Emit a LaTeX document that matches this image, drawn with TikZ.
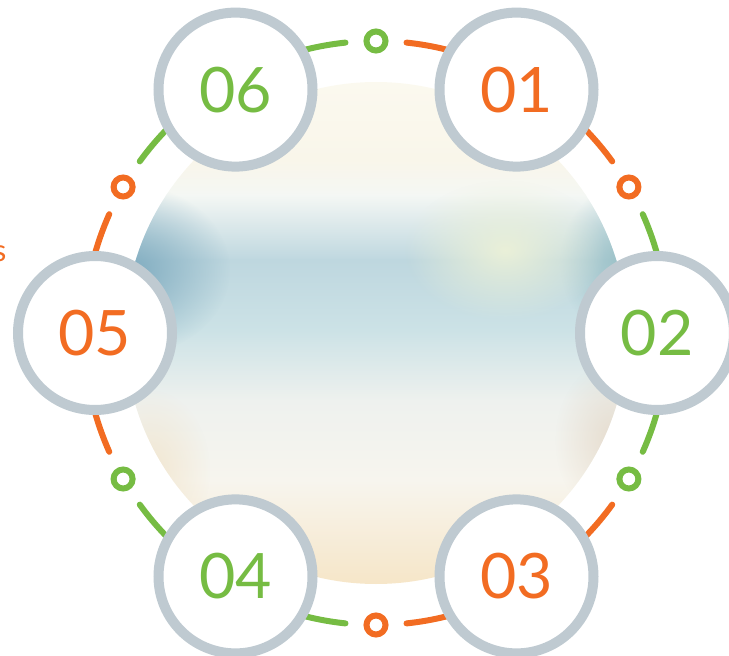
\documentclass[tikz,border=0pt]{standalone}
\usepackage{fontspec}
\setmainfont{Lato}
\usetikzlibrary{fadings}

\definecolor{numorange}{RGB}{242,108,34}
\definecolor{numgreen}{RGB}{118,188,67}
\definecolor{ringgray}{RGB}{191,202,209}

\tikzfading[name=softglow, inner color=transparent!0, outer color=transparent!100]

\tikzset{every picture/.style={line width=0.75pt}}
\tikzset{
  numcirc/.style={circle, draw=ringgray, line width=7.5pt, fill=white, minimum size=115.5pt, inner sep=0pt, font=\fontsize{47}{47}\selectfont},
  linkarc/.style={line width=4.5pt, line cap=round},
  dotring/.style={circle, draw, fill=white, line width=4.5pt, minimum size=14.25pt, inner sep=0pt},
  softspot/.style={path fading=softglow},
}

\begin{document}
\begin{tikzpicture}[x=0.75pt,y=0.75pt,yscale=-1,xscale=1]
\useasboundingbox (0,0) rectangle (729,656);

\coordinate (hub) at (376,333);

%Blurred picture in the middle
\begin{scope}
\clip (hub) circle [radius=251];
\shade [top color={rgb,255:red,251;green,249;blue,239}, bottom color={rgb,255:red,249;green,246;blue,234}] (120,80) rectangle (630,161);
\shade [top color={rgb,255:red,249;green,246;blue,234}, bottom color={rgb,255:red,244;green,247;blue,244}] (120,160) rectangle (630,196);
\shade [top color={rgb,255:red,244;green,247;blue,244}, bottom color={rgb,255:red,190;green,215;blue,223}] (120,195) rectangle (630,261);
\shade [top color={rgb,255:red,190;green,215;blue,223}, bottom color={rgb,255:red,204;green,226;blue,230}] (120,260) rectangle (630,331);
\shade [top color={rgb,255:red,204;green,226;blue,230}, bottom color={rgb,255:red,238;green,241;blue,238}] (120,330) rectangle (630,401);
\shade [top color={rgb,255:red,238;green,241;blue,238}, bottom color={rgb,255:red,247;green,245;blue,238}] (120,400) rectangle (630,481);
\shade [top color={rgb,255:red,247;green,245;blue,238}, bottom color={rgb,255:red,246;green,229;blue,198}] (120,480) rectangle (630,590);
%darker sides, pale green patch
\fill [softspot, color={rgb,255:red,128;green,172;blue,192}] (130,270) ellipse [x radius=100, y radius=85];
\fill [softspot, color={rgb,255:red,150;green,190;blue,196}] (630,262) ellipse [x radius=70, y radius=80];
\fill [softspot, color={rgb,255:red,234;green,240;blue,216}] (505,250) ellipse [x radius=100, y radius=70];
\fill [softspot, color={rgb,255:red,222;green,205;blue,185}, fill opacity=0.6] (615,440) ellipse [x radius=60, y radius=80];
\fill [softspot, color={rgb,255:red,240;green,222;blue,190}, fill opacity=0.6] (150,470) ellipse [x radius=60, y radius=80];
\end{scope}

%Arcs
\draw [linkarc, numorange] (hub) ++(-60:292) arc (-60:-84:292);
\draw [linkarc, numorange] (hub) ++(-60:292) arc (-60:-36:292);
\draw [linkarc, numgreen] (hub) ++(0:292) arc (0:-24:292);
\draw [linkarc, numgreen] (hub) ++(0:292) arc (0:24:292);
\draw [linkarc, numorange] (hub) ++(60:292) arc (60:36:292);
\draw [linkarc, numorange] (hub) ++(60:292) arc (60:84:292);
\draw [linkarc, numgreen] (hub) ++(120:292) arc (120:96:292);
\draw [linkarc, numgreen] (hub) ++(120:292) arc (120:144:292);
\draw [linkarc, numorange] (hub) ++(180:292) arc (180:156:292);
\draw [linkarc, numorange] (hub) ++(180:292) arc (180:204:292);
\draw [linkarc, numgreen] (hub) ++(240:292) arc (240:216:292);
\draw [linkarc, numgreen] (hub) ++(240:292) arc (240:264:292);

%Small rings
\node [dotring, draw=numgreen] (dtop) at (376,41) {};
\node [dotring, draw=numorange] (dupright) at (628.9,187) {};
\node [dotring, draw=numgreen] (dlowright) at (628.9,479) {};
\node [dotring, draw=numorange] (dbottom) at (376,625) {};
\node [dotring, draw=numgreen] (dlowleft) at (123.1,479) {};
\node [dotring, draw=numorange] (dupleft) at (123.1,187) {};

%Numbered circles
\node [numcirc, text=numorange] (n01) at (516.5,89.6) {01};
\node [numcirc, text=numgreen] (n02) at (657,333) {02};
\node [numcirc, text=numorange] (n03) at (516.5,576.4) {03};
\node [numcirc, text=numgreen] (n04) at (235.5,576.4) {04};
\node [numcirc, text=numorange] (n05) at (95,333) {05};
\node [numcirc, text=numgreen] (n06) at (235.5,89.6) {06};

% Text Node
\node [anchor=base east, inner sep=0pt, text=numorange, font=\fontsize{23}{23}\selectfont] (cutword) at (7,262) {s};

\end{tikzpicture}
\end{document}
